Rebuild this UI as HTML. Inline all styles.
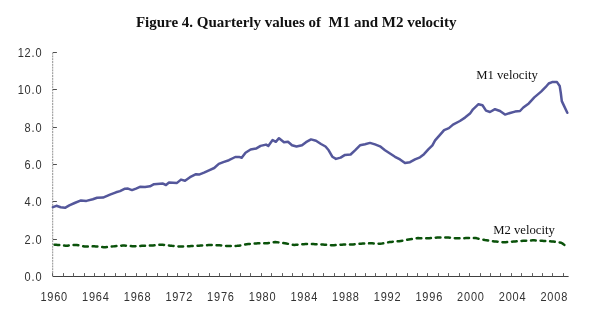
<!DOCTYPE html>
<html><head><meta charset="utf-8"><style>
html,body{margin:0;padding:0;background:#fff;width:600px;height:327px;overflow:hidden}
svg{display:block;will-change:transform}
.ax{font-family:"Liberation Sans",sans-serif;font-size:12.2px;letter-spacing:0.9px;fill:#333}
.lab{font-family:"Liberation Serif",serif;font-size:12.7px;fill:#111}
.title{font-family:"Liberation Serif",serif;font-size:15px;font-weight:bold;fill:#111}
</style></head><body>
<svg width="600" height="327" viewBox="0 0 600 327">
<rect width="600" height="327" fill="#fff"/>
<line x1="52.7" y1="52.6" x2="52.7" y2="276.4" stroke="#909090" stroke-width="1" stroke-dasharray="2 0.8"/>
<line x1="52.9" y1="276.50" x2="56.9" y2="276.50" stroke="#505050" stroke-width="1"/>
<text transform="translate(42.3 280.50) scale(0.9 1)" text-anchor="end" class="ax">0.0</text>
<line x1="52.9" y1="239.50" x2="56.9" y2="239.50" stroke="#505050" stroke-width="1"/>
<text transform="translate(42.3 243.50) scale(0.9 1)" text-anchor="end" class="ax">2.0</text>
<line x1="52.9" y1="201.50" x2="56.9" y2="201.50" stroke="#505050" stroke-width="1"/>
<text transform="translate(42.3 205.50) scale(0.9 1)" text-anchor="end" class="ax">4.0</text>
<line x1="52.9" y1="164.50" x2="56.9" y2="164.50" stroke="#505050" stroke-width="1"/>
<text transform="translate(42.3 168.50) scale(0.9 1)" text-anchor="end" class="ax">6.0</text>
<line x1="52.9" y1="127.50" x2="56.9" y2="127.50" stroke="#505050" stroke-width="1"/>
<text transform="translate(42.3 131.50) scale(0.9 1)" text-anchor="end" class="ax">8.0</text>
<line x1="52.9" y1="89.50" x2="56.9" y2="89.50" stroke="#505050" stroke-width="1"/>
<text transform="translate(42.3 93.50) scale(0.9 1)" text-anchor="end" class="ax">10.0</text>
<line x1="52.9" y1="52.50" x2="56.9" y2="52.50" stroke="#505050" stroke-width="1"/>
<text transform="translate(42.3 56.50) scale(0.9 1)" text-anchor="end" class="ax">12.0</text>
<line x1="52.9" y1="276.5" x2="568.6" y2="276.5" stroke="#404040" stroke-width="1"/>
<line x1="52.50" y1="273.09999999999997" x2="52.50" y2="276.4" stroke="#606060" stroke-width="1"/>
<line x1="63.50" y1="273.09999999999997" x2="63.50" y2="276.4" stroke="#606060" stroke-width="1"/>
<line x1="73.50" y1="273.09999999999997" x2="73.50" y2="276.4" stroke="#606060" stroke-width="1"/>
<line x1="84.50" y1="273.09999999999997" x2="84.50" y2="276.4" stroke="#606060" stroke-width="1"/>
<line x1="94.50" y1="273.09999999999997" x2="94.50" y2="276.4" stroke="#606060" stroke-width="1"/>
<line x1="104.50" y1="273.09999999999997" x2="104.50" y2="276.4" stroke="#606060" stroke-width="1"/>
<line x1="115.50" y1="273.09999999999997" x2="115.50" y2="276.4" stroke="#606060" stroke-width="1"/>
<line x1="125.50" y1="273.09999999999997" x2="125.50" y2="276.4" stroke="#606060" stroke-width="1"/>
<line x1="136.50" y1="273.09999999999997" x2="136.50" y2="276.4" stroke="#606060" stroke-width="1"/>
<line x1="146.50" y1="273.09999999999997" x2="146.50" y2="276.4" stroke="#606060" stroke-width="1"/>
<line x1="157.50" y1="273.09999999999997" x2="157.50" y2="276.4" stroke="#606060" stroke-width="1"/>
<line x1="167.50" y1="273.09999999999997" x2="167.50" y2="276.4" stroke="#606060" stroke-width="1"/>
<line x1="177.50" y1="273.09999999999997" x2="177.50" y2="276.4" stroke="#606060" stroke-width="1"/>
<line x1="188.50" y1="273.09999999999997" x2="188.50" y2="276.4" stroke="#606060" stroke-width="1"/>
<line x1="198.50" y1="273.09999999999997" x2="198.50" y2="276.4" stroke="#606060" stroke-width="1"/>
<line x1="209.50" y1="273.09999999999997" x2="209.50" y2="276.4" stroke="#606060" stroke-width="1"/>
<line x1="219.50" y1="273.09999999999997" x2="219.50" y2="276.4" stroke="#606060" stroke-width="1"/>
<line x1="230.50" y1="273.09999999999997" x2="230.50" y2="276.4" stroke="#606060" stroke-width="1"/>
<line x1="240.50" y1="273.09999999999997" x2="240.50" y2="276.4" stroke="#606060" stroke-width="1"/>
<line x1="250.50" y1="273.09999999999997" x2="250.50" y2="276.4" stroke="#606060" stroke-width="1"/>
<line x1="261.50" y1="273.09999999999997" x2="261.50" y2="276.4" stroke="#606060" stroke-width="1"/>
<line x1="271.50" y1="273.09999999999997" x2="271.50" y2="276.4" stroke="#606060" stroke-width="1"/>
<line x1="282.50" y1="273.09999999999997" x2="282.50" y2="276.4" stroke="#606060" stroke-width="1"/>
<line x1="292.50" y1="273.09999999999997" x2="292.50" y2="276.4" stroke="#606060" stroke-width="1"/>
<line x1="302.50" y1="273.09999999999997" x2="302.50" y2="276.4" stroke="#606060" stroke-width="1"/>
<line x1="313.50" y1="273.09999999999997" x2="313.50" y2="276.4" stroke="#606060" stroke-width="1"/>
<line x1="323.50" y1="273.09999999999997" x2="323.50" y2="276.4" stroke="#606060" stroke-width="1"/>
<line x1="334.50" y1="273.09999999999997" x2="334.50" y2="276.4" stroke="#606060" stroke-width="1"/>
<line x1="344.50" y1="273.09999999999997" x2="344.50" y2="276.4" stroke="#606060" stroke-width="1"/>
<line x1="355.50" y1="273.09999999999997" x2="355.50" y2="276.4" stroke="#606060" stroke-width="1"/>
<line x1="365.50" y1="273.09999999999997" x2="365.50" y2="276.4" stroke="#606060" stroke-width="1"/>
<line x1="375.50" y1="273.09999999999997" x2="375.50" y2="276.4" stroke="#606060" stroke-width="1"/>
<line x1="386.50" y1="273.09999999999997" x2="386.50" y2="276.4" stroke="#606060" stroke-width="1"/>
<line x1="396.50" y1="273.09999999999997" x2="396.50" y2="276.4" stroke="#606060" stroke-width="1"/>
<line x1="407.50" y1="273.09999999999997" x2="407.50" y2="276.4" stroke="#606060" stroke-width="1"/>
<line x1="417.50" y1="273.09999999999997" x2="417.50" y2="276.4" stroke="#606060" stroke-width="1"/>
<line x1="427.50" y1="273.09999999999997" x2="427.50" y2="276.4" stroke="#606060" stroke-width="1"/>
<line x1="438.50" y1="273.09999999999997" x2="438.50" y2="276.4" stroke="#606060" stroke-width="1"/>
<line x1="448.50" y1="273.09999999999997" x2="448.50" y2="276.4" stroke="#606060" stroke-width="1"/>
<line x1="459.50" y1="273.09999999999997" x2="459.50" y2="276.4" stroke="#606060" stroke-width="1"/>
<line x1="469.50" y1="273.09999999999997" x2="469.50" y2="276.4" stroke="#606060" stroke-width="1"/>
<line x1="480.50" y1="273.09999999999997" x2="480.50" y2="276.4" stroke="#606060" stroke-width="1"/>
<line x1="490.50" y1="273.09999999999997" x2="490.50" y2="276.4" stroke="#606060" stroke-width="1"/>
<line x1="500.50" y1="273.09999999999997" x2="500.50" y2="276.4" stroke="#606060" stroke-width="1"/>
<line x1="511.50" y1="273.09999999999997" x2="511.50" y2="276.4" stroke="#606060" stroke-width="1"/>
<line x1="521.50" y1="273.09999999999997" x2="521.50" y2="276.4" stroke="#606060" stroke-width="1"/>
<line x1="532.50" y1="273.09999999999997" x2="532.50" y2="276.4" stroke="#606060" stroke-width="1"/>
<line x1="542.50" y1="273.09999999999997" x2="542.50" y2="276.4" stroke="#606060" stroke-width="1"/>
<line x1="552.50" y1="273.09999999999997" x2="552.50" y2="276.4" stroke="#606060" stroke-width="1"/>
<line x1="563.50" y1="273.09999999999997" x2="563.50" y2="276.4" stroke="#606060" stroke-width="1"/>
<text transform="translate(54.20 301) scale(0.9 1)" text-anchor="middle" class="ax">1960</text>
<text transform="translate(95.87 301) scale(0.9 1)" text-anchor="middle" class="ax">1964</text>
<text transform="translate(137.54 301) scale(0.9 1)" text-anchor="middle" class="ax">1968</text>
<text transform="translate(179.22 301) scale(0.9 1)" text-anchor="middle" class="ax">1972</text>
<text transform="translate(220.89 301) scale(0.9 1)" text-anchor="middle" class="ax">1976</text>
<text transform="translate(262.56 301) scale(0.9 1)" text-anchor="middle" class="ax">1980</text>
<text transform="translate(304.23 301) scale(0.9 1)" text-anchor="middle" class="ax">1984</text>
<text transform="translate(345.90 301) scale(0.9 1)" text-anchor="middle" class="ax">1988</text>
<text transform="translate(387.58 301) scale(0.9 1)" text-anchor="middle" class="ax">1992</text>
<text transform="translate(429.25 301) scale(0.9 1)" text-anchor="middle" class="ax">1996</text>
<text transform="translate(470.92 301) scale(0.9 1)" text-anchor="middle" class="ax">2000</text>
<text transform="translate(512.59 301) scale(0.9 1)" text-anchor="middle" class="ax">2004</text>
<text transform="translate(554.26 301) scale(0.9 1)" text-anchor="middle" class="ax">2008</text>
<polyline points="52.9,207.2 56.4,205.8 60.7,207.2 65,207.8 69.3,205.3 74.6,203 81,200.4 86.4,200.9 92.8,199.3 97.1,197.8 103,197.6 110,194.6 116,192.3 120,191.1 125,188.7 128,188.6 132,190.1 136,188.6 140,186.8 145,187.1 150,186.3 154,184.2 163,183.6 166,185 169,182.6 177,182.9 181,179.6 185,180.8 190,177.2 196,174.2 199,174.6 204,172.6 209,170.3 214.2,168 218.8,163.9 223.3,162.1 228.9,160.2 235.3,157 239,156.9 241.7,157.8 245.5,152.8 250.6,149.5 256,148.6 260.6,145.9 266,144.6 268.3,145.9 272.6,140 275.8,141.8 279,138.2 284,142.2 288,141.8 292,145.3 296.5,146.5 302,145.3 306,142.2 311,139.4 316,140.7 321,144 325.5,146.5 328.7,150.3 332.3,156.7 336,158.9 340.6,157.6 345,154.9 350.6,154.5 355,150.3 360,145.3 365,144.2 370,142.9 375,144.4 380,146.3 385,150.2 390,153.5 395,156.8 400,159.4 405,163.1 410,162.2 415,159.4 420,157.3 424,154.2 428.3,149.4 432.4,145.3 435.1,140.4 439.3,135.6 444.1,130.1 448.9,128.1 453,124.6 459.9,121.0 465,117.6 470,113.6 473,109.3 478.5,104.2 482.5,105.2 486,110.6 490,112 495,109.2 500,111 505,114.6 510,113 515,111.6 520,111 523.3,107.5 528.8,103.4 534.3,97.4 541.1,91.6 545.5,87.2 548.7,83.5 552.1,82.1 557,82.1 559.7,86 560.8,93 561.8,101.1 563.1,103.9 567.3,112.8" fill="none" stroke="#54579b" stroke-width="2.5" stroke-linejoin="round" stroke-linecap="round"/>
<path d="M54.55,244.71 L56.12,244.78 L57.68,244.92 L59.25,245.09 M64.08,245.60 L65.65,245.76 L67.21,245.68 L68.78,245.52 M73.61,245.04 L75.18,244.88 L76.74,244.95 L78.31,245.26 M83.14,246.23 L84.71,246.54 L86.27,246.56 L87.84,246.51 M92.67,246.37 L94.24,246.32 L95.80,246.40 L97.37,246.56 M102.20,247.06 L103.77,247.22 L105.33,247.21 L106.90,247.05 M111.73,246.54 L113.30,246.37 L114.86,246.23 L116.43,246.09 M121.26,245.68 L122.83,245.54 L124.39,245.59 L125.96,245.71 M130.79,246.10 L132.36,246.22 L133.92,246.27 L135.49,246.18 M140.32,245.92 L141.89,245.83 L143.45,245.77 L145.02,245.72 M149.85,245.58 L151.42,245.53 L152.98,245.45 L154.55,245.30 M159.38,244.83 L160.95,244.67 L162.51,244.70 L164.08,244.89 M168.91,245.47 L170.48,245.65 L172.04,245.83 L173.61,245.97 M178.44,246.39 L180.01,246.53 L181.57,246.56 L183.14,246.47 M187.97,246.21 L189.54,246.13 L191.10,246.04 L192.67,245.97 M197.50,245.73 L199.07,245.65 L200.63,245.56 L202.20,245.46 M207.03,245.17 L208.60,245.07 L210.16,245.01 L211.73,245.06 M216.56,245.22 L218.13,245.27 L219.69,245.34 L221.26,245.48 M226.09,245.91 L227.66,246.04 L229.22,246.07 L230.79,246.03 M235.62,245.88 L237.19,245.83 L238.75,245.72 L240.32,245.43 M245.15,244.53 L246.72,244.24 L248.28,244.04 L249.85,243.91 M254.68,243.53 L256.25,243.40 L257.81,243.30 L259.38,243.30 M264.21,243.30 L265.78,243.30 L267.34,243.21 L268.91,242.98 M273.74,242.29 L275.31,242.07 L276.87,242.15 L278.44,242.37 M283.27,243.06 L284.84,243.28 L286.40,243.57 L287.97,243.86 M292.80,244.77 L294.37,244.97 L295.93,244.83 L297.50,244.69 M302.33,244.27 L303.90,244.13 L305.46,244.10 L307.03,244.10 M311.86,244.10 L313.43,244.11 L314.99,244.18 L316.56,244.26 M321.39,244.50 L322.96,244.58 L324.52,244.69 L326.09,244.80 M330.92,245.15 L332.49,245.26 L334.05,245.22 L335.62,245.11 M340.45,244.75 L342.02,244.64 L343.58,244.59 L345.15,244.57 M349.98,244.52 L351.55,244.50 L353.11,244.40 L354.68,244.25 M359.51,243.80 L361.08,243.66 L362.64,243.57 L364.21,243.52 M369.04,243.37 L370.61,243.32 L372.17,243.35 L373.74,243.43 M378.57,243.68 L380.14,243.77 L381.70,243.62 L383.27,243.32 M388.10,242.37 L389.67,242.07 L391.23,241.89 L392.80,241.74 M397.63,241.29 L399.20,241.15 L400.76,240.92 L402.33,240.66 M407.16,239.84 L408.73,239.58 L410.29,239.33 L411.86,239.09 M416.69,238.35 L418.26,238.11 L419.82,238.13 L421.39,238.16 M426.22,238.26 L427.79,238.29 L429.35,238.21 L430.92,238.07 M435.75,237.65 L437.32,237.52 L438.88,237.50 L440.45,237.50 M445.28,237.50 L446.85,237.50 L448.41,237.62 L449.98,237.75 M454.81,238.14 L456.38,238.27 L457.94,238.27 L459.51,238.24 M464.34,238.14 L465.91,238.11 L467.47,238.10 L469.04,238.10 M473.87,238.10 L475.44,238.10 L477.00,238.35 L478.57,238.67 M483.40,239.67 L484.97,239.99 L486.53,240.23 L488.10,240.47 M492.93,241.19 L494.50,241.42 L496.06,241.59 L497.63,241.73 M502.46,242.15 L504.03,242.28 L505.59,242.19 L507.16,242.07 M511.99,241.70 L513.56,241.58 L515.12,241.45 L516.69,241.33 M521.52,240.94 L523.09,240.82 L524.65,240.73 L526.22,240.65 M531.05,240.41 L532.62,240.33 L534.18,240.35 L535.75,240.43 M540.58,240.70 L542.15,240.78 L543.71,240.88 L545.28,240.99 M550.11,241.33 L551.68,241.44 L553.24,241.61 L554.81,241.83 M559.64,242.51 L561.21,242.73 L562.77,243.65 L564.34,244.88" fill="none" stroke="#0a520a" stroke-width="2.5" stroke-linejoin="round" stroke-linecap="round"/>
<text x="476.2" y="78.7" class="lab">M1 velocity</text>
<text x="493.2" y="233.7" class="lab">M2 velocity</text>
<text x="135.9" y="27.3" class="title">Figure 4. Quarterly values of&#160; M1 and M2 velocity</text>
</svg>
</body></html>
